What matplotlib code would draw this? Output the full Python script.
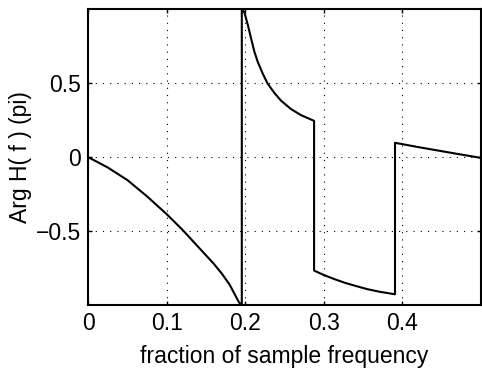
import matplotlib
matplotlib.use("Agg")
import matplotlib.pyplot as plt

plt.rcParams['font.family'] = ['Liberation Sans', 'DejaVu Sans']

# phase of H(f) in units of pi
# (jumps are drawn as repeated x values)
freq = [0.0, 0.025, 0.05, 0.075, 0.1, 0.12, 0.14, 0.16, 0.17, 0.18, 0.184, 0.188, 0.192, 0.1955,
        0.1955, 0.1989, 0.203, 0.2072, 0.2115, 0.2157, 0.2221, 0.2284, 0.2369, 0.2453, 0.258, 0.2707, 0.2875,
        0.2875, 0.3, 0.313, 0.327, 0.34, 0.355, 0.37, 0.3905,
        0.3905, 0.42, 0.445, 0.47, 0.5]
phase = [0.0, -0.07, -0.155, -0.265, -0.385, -0.49, -0.605, -0.72, -0.785, -0.86, -0.9, -0.94, -0.98, -1.0,
         1.0, 0.975, 0.895, 0.804, 0.712, 0.644, 0.564, 0.496, 0.434, 0.382, 0.325, 0.284, 0.245,
         -0.765, -0.795, -0.822, -0.848, -0.868, -0.89, -0.907, -0.925,
         0.097, 0.068, 0.045, 0.022, -0.005]

xticks = [0, 0.1, 0.2, 0.3, 0.4]
xticklabels = ['0', '0.1', '0.2', '0.3', '0.4']
yticks = [-0.5, 0, 0.5]
yticklabels = ['\u22120.5', '0', '0.5']

fig = plt.figure(figsize=(4.82, 3.72), dpi=100)
ax = fig.add_axes([0.183, 0.179, 0.815, 0.797])

ax.plot(freq, phase, color='black', linewidth=1.5)

ax.set_xlim(0, 0.5)
ax.set_ylim(-1, 1)
ax.set_xticks(xticks)
ax.set_xticklabels(xticklabels)
ax.set_yticks(yticks)
ax.set_yticklabels(yticklabels)
ax.tick_params(direction='in', length=3, width=1, top=True, right=True,
               labelsize=16.5, pad=5)
ax.grid(True, color='black', linestyle=(0, (1, 5.5)), linewidth=0.8)
for s in ax.spines.values():
    s.set_linewidth(1.5)

ax.set_xlabel('fraction of sample frequency', fontsize=16.5, labelpad=7)
ax.set_ylabel('Arg H( f ) (pi)', fontsize=16.5, labelpad=3)

fig.savefig('out.png', dpi=100)
